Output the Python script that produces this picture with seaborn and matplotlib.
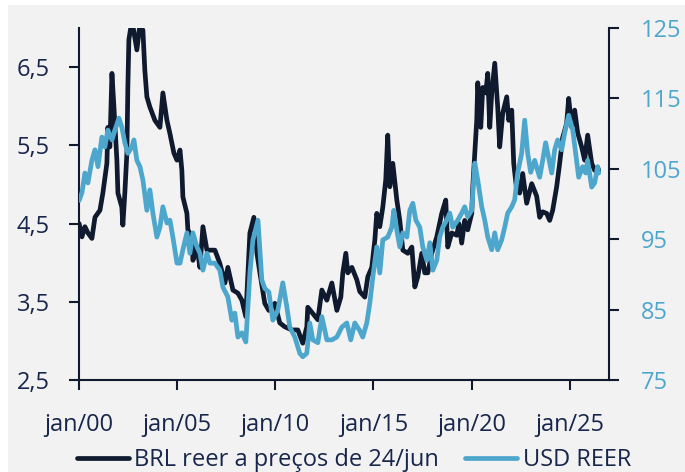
import matplotlib
matplotlib.use("Agg")
import matplotlib.pyplot as plt
from matplotlib.patches import Rectangle
import seaborn as sns
import pandas as pd

# ---------------- data ----------------
brl_dates = [
    "2000-01-03", "2000-02-25", "2000-04-20", "2000-06-15", "2000-08-28", "2000-10-24",
    "2001-01-25", "2001-03-20", "2001-06-03", "2001-06-21", "2001-07-28", "2001-09-05", "2001-10-12", "2001-12-06", "2001-12-25",
    "2002-03-08", "2002-03-27", "2002-05-03", "2002-06-10", "2002-06-28", "2002-07-17", "2002-09-12", "2002-12-13",
    "2003-02-08", "2003-04-04", "2003-05-10", "2003-06-17", "2003-08-12", "2003-11-13",
    "2004-02-15", "2004-04-10", "2004-06-24", "2004-08-19", "2004-11-01", "2004-12-28",
    "2005-02-22", "2005-03-29", "2005-04-17", "2005-07-01", "2005-07-19", "2005-10-02", "2005-10-21",
    "2006-01-04", "2006-02-28", "2006-04-25", "2006-07-08", "2006-09-02", "2006-12-04",
    "2007-03-06", "2007-06-08", "2007-08-02", "2007-11-04",
    "2008-02-05", "2008-04-19", "2008-07-01", "2008-09-15", "2008-11-28",
    "2009-01-24", "2009-03-20", "2009-06-19", "2009-09-02", "2009-12-23",
    "2010-03-25", "2010-06-27", "2010-11-04",
    "2011-02-24", "2011-05-27", "2011-08-10", "2011-08-28", "2011-11-30",
    "2012-03-02", "2012-05-16", "2012-08-17", "2012-11-18",
    "2013-02-19", "2013-05-04", "2013-06-10", "2013-08-05", "2013-09-11", "2013-11-25",
    "2014-02-26", "2014-04-22", "2014-07-24", "2014-09-18", "2014-12-01",
    "2015-01-27", "2015-03-04", "2015-04-29", "2015-06-24", "2015-08-18", "2015-09-24", "2015-11-01", "2015-12-27",
    "2016-03-11", "2016-05-05", "2016-07-01", "2016-10-02", "2016-12-15",
    "2017-02-09", "2017-04-05", "2017-06-18", "2017-08-13", "2017-10-08", "2017-12-21",
    "2018-03-24", "2018-06-25", "2018-09-07", "2018-10-15", "2018-12-28",
    "2019-03-31", "2019-05-10", "2019-07-01", "2019-08-26", "2019-10-21",
    "2020-01-04", "2020-01-23", "2020-03-01", "2020-04-06", "2020-04-25", "2020-06-20", "2020-07-27", "2020-09-21", "2020-10-28", "2020-12-04",
    "2021-01-10", "2021-03-07", "2021-05-01", "2021-06-07", "2021-08-02", "2021-10-16", "2021-11-22",
    "2022-01-17", "2022-02-23", "2022-04-19", "2022-06-14", "2022-08-09", "2022-10-22",
    "2023-01-24", "2023-04-26", "2023-06-21", "2023-08-16", "2023-10-29", "2023-12-24",
    "2024-02-18", "2024-05-02", "2024-06-27", "2024-08-22", "2024-11-04", "2024-12-12",
    "2025-02-06", "2025-04-02", "2025-05-28", "2025-08-10", "2025-10-05", "2025-11-30",
    "2026-02-13", "2026-04-09", "2026-06-03", "2026-06-24",
]
brl_values = [
    4.50, 4.33, 4.46, 4.38, 4.31, 4.58,
    4.67, 4.89, 5.27, 5.73, 5.48, 6.42, 5.99, 5.31, 4.89,
    4.71, 4.48, 4.89, 5.40, 6.24, 6.85, 7.10, 6.72,
    7.05, 6.97, 6.46, 6.12, 5.99, 5.82,
    5.73, 6.17, 5.82, 5.65, 5.40, 5.31,
    5.44, 5.18, 4.84, 4.63, 4.42, 4.33, 4.03,
    4.20, 3.94, 4.46, 4.16, 4.16, 4.16,
    3.99, 3.74, 3.94, 3.65,
    3.61, 3.52, 3.31, 4.38, 4.58,
    4.12, 3.87, 3.48, 3.39, 3.48,
    3.23, 3.18, 3.14,
    3.14, 2.97, 3.18, 3.43, 3.35,
    3.27, 3.65, 3.52, 3.74,
    3.39, 3.56, 3.87, 4.12, 3.87, 3.94,
    3.78, 3.63, 3.56, 3.82, 3.94,
    4.29, 4.63, 4.46, 4.71, 5.06, 5.63, 4.97, 5.27,
    4.80, 4.54, 4.16, 4.12, 4.20,
    3.69, 3.82, 4.12, 3.87, 3.87, 4.12,
    4.33, 4.63, 4.80, 4.20, 4.38,
    4.35, 4.50, 4.25, 4.54, 4.42,
    4.63, 4.97, 5.40, 5.82, 6.30, 5.73, 6.24, 6.17, 6.42, 5.73,
    6.17, 6.55, 5.99, 5.48, 5.91, 6.12, 5.82,
    5.95, 5.27, 4.93, 4.89, 5.14, 4.76,
    5.01, 4.85, 4.58, 4.65, 4.63, 4.54,
    4.67, 4.97, 5.27, 5.60, 5.78, 6.10,
    5.73, 5.95, 5.66, 5.48, 5.31, 5.63,
    5.27, 5.18, 5.22, 5.18,
]

usd_dates = [
    "2000-01-03", "2000-02-25", "2000-04-20", "2000-06-15", "2000-08-28", "2000-10-24", "2000-12-19",
    "2001-03-02", "2001-04-27", "2001-06-21", "2001-09-05", "2001-10-31",
    "2002-01-13", "2002-03-08", "2002-05-03", "2002-06-28", "2002-09-12", "2002-10-19", "2002-12-13",
    "2003-02-08", "2003-04-04", "2003-06-17", "2003-08-12", "2003-10-07", "2003-12-20",
    "2004-02-15", "2004-04-10", "2004-06-24", "2004-08-19", "2004-10-13", "2004-12-28",
    "2005-02-22", "2005-04-17", "2005-07-01", "2005-08-26", "2005-10-21",
    "2006-01-04", "2006-02-28", "2006-04-25", "2006-07-08", "2006-09-02", "2006-12-04",
    "2007-03-06", "2007-05-01", "2007-08-02", "2007-10-15", "2007-12-10",
    "2008-02-05", "2008-04-19", "2008-07-01", "2008-09-15", "2008-11-10",
    "2009-02-12", "2009-04-25", "2009-06-19", "2009-09-02", "2009-11-16",
    "2010-02-17", "2010-05-20", "2010-08-03", "2010-09-28", "2010-12-30",
    "2011-04-01", "2011-05-27", "2011-08-10", "2011-10-04", "2011-11-30",
    "2012-03-02", "2012-05-16", "2012-08-17", "2012-11-18",
    "2013-02-19", "2013-05-22", "2013-08-23", "2013-11-05",
    "2014-01-19", "2014-04-22", "2014-06-16", "2014-08-30", "2014-10-25", "2014-12-20",
    "2015-03-04", "2015-04-29", "2015-06-24", "2015-09-24", "2015-12-08",
    "2016-01-15", "2016-03-11", "2016-05-05", "2016-07-01", "2016-09-13", "2016-11-08",
    "2017-01-03", "2017-02-28", "2017-05-12", "2017-07-07", "2017-09-20", "2017-11-15",
    "2018-01-10", "2018-03-24", "2018-05-18", "2018-07-13", "2018-09-25", "2018-11-21",
    "2019-01-16", "2019-04-19", "2019-07-01", "2019-08-26", "2019-10-21",
    "2020-01-04", "2020-03-01", "2020-04-25", "2020-07-08", "2020-09-02", "2020-10-28",
    "2021-01-10", "2021-03-07", "2021-05-01", "2021-07-14", "2021-09-08", "2021-11-03",
    "2022-01-17", "2022-03-13", "2022-05-07", "2022-07-21", "2022-09-15", "2022-11-10",
    "2023-01-05", "2023-03-20", "2023-06-21", "2023-08-16", "2023-10-10", "2023-12-24",
    "2024-01-31", "2024-03-26", "2024-05-21", "2024-08-03", "2024-09-28", "2024-12-12",
    "2025-02-25", "2025-04-21", "2025-06-16", "2025-08-29", "2025-10-24", "2025-11-30",
    "2026-02-13", "2026-04-09", "2026-06-03", "2026-06-24",
]
usd_values = [
    100.5, 101.6, 104.4, 103.0, 106.2, 107.7, 105.3,
    109.5, 108.1, 110.5, 109.1, 110.5,
    112.2, 110.9, 108.7, 107.2, 108.1, 109.1, 106.2,
    105.3, 103.4, 99.1, 102.0, 98.7, 95.3,
    96.7, 99.6, 97.3, 97.7, 95.3, 91.6,
    91.6, 93.5, 95.9, 93.0, 95.9,
    93.9, 93.0, 90.6, 93.0, 91.6, 91.6,
    90.6, 88.2, 86.8, 83.5, 84.5,
    81.1, 81.7, 80.4, 90.2, 94.9,
    97.7, 89.2, 88.0, 87.5, 83.5,
    84.9, 88.8, 85.4, 82.5, 81.1,
    78.8, 78.3, 78.8, 83.1, 80.7,
    80.3, 84.0, 80.7, 80.7,
    81.1, 82.5, 83.1, 80.7,
    83.1, 82.0, 81.1, 83.1, 85.9, 89.6,
    93.9, 90.2, 94.9, 95.3, 96.7,
    99.1, 96.3, 93.9, 95.9, 95.3, 99.1,
    100.1, 97.7, 96.7, 93.9, 92.0, 94.5,
    90.6, 92.0, 95.3, 96.7, 97.7, 98.7,
    96.7, 97.7, 98.7, 99.6, 98.2,
    99.1, 105.8, 103.4, 99.6, 97.7, 95.3,
    93.5, 95.9, 93.5, 94.9, 96.7, 98.7,
    99.6, 100.6, 104.4, 107.2, 111.9, 107.2,
    104.5, 106.2, 103.8, 106.2, 108.7, 105.8,
    104.4, 107.7, 109.1, 107.7, 110.1, 112.6,
    110.5, 107.2, 103.8, 105.3, 104.4, 106.2,
    102.4, 103.0, 105.3, 104.4,
]

series_labels = ["BRL reer a preços de 24/jun", "USD REER"]
left_ticks = [2.5, 3.5, 4.5, 5.5, 6.5]
right_ticks = [75, 85, 95, 105, 115, 125]
x_tick_years = [2000, 2005, 2010, 2015, 2020, 2025]

# ---------------- style ----------------
NAVY = "#0f1a2e"
BLUE = "#4da6cc"
TEXT = "#17264a"
BG = "#f2f2f2"
plt.rcParams["font.family"] = ["Open Sans", "DejaVu Sans"]
FS = 17

W, H = 685, 472
fig = plt.figure(figsize=(W / 100, H / 100), dpi=100, facecolor="white")
fig.patches.append(Rectangle((8 / W, 0), 1, (H - 5) / H, transform=fig.transFigure,
                             facecolor=BG, edgecolor="none", zorder=-10))

ax = fig.add_axes([79 / W, (H - 380) / H, 530 / W, 352 / H])
ax.set_facecolor("none")
ax2 = ax.twinx()

brl_df = pd.DataFrame({"date": pd.to_datetime(brl_dates), "v": brl_values})
usd_df = pd.DataFrame({"date": pd.to_datetime(usd_dates), "v": usd_values})

sns.lineplot(data=brl_df, x="date", y="v", ax=ax, color=NAVY, linewidth=3.4,
             legend=False, solid_joinstyle="round", solid_capstyle="round")
sns.lineplot(data=usd_df, x="date", y="v", ax=ax2, color=BLUE, linewidth=3.4,
             legend=False, solid_joinstyle="round", solid_capstyle="round")

ax.set_xlim(pd.Timestamp("2000-01-01"), pd.Timestamp("2027-01-01"))
ax.set_ylim(2.5, 7.0)
ax2.set_ylim(75, 125)

ax.set_yticks(left_ticks)
ax.set_yticklabels([f"{v:.1f}".replace(".", ",") for v in left_ticks])
ax2.set_yticks(right_ticks)
ax2.set_yticklabels([str(v) for v in right_ticks])
xt = [pd.Timestamp(f"{y}-01-01") for y in x_tick_years]
ax.set_xticks(xt)
ax.set_xticklabels([f"jan/{y % 100:02d}" for y in x_tick_years])

for a in (ax, ax2):
    a.set_xlabel("")
    a.set_ylabel("")
    for s in a.spines.values():
        s.set_color(NAVY)
        s.set_linewidth(1.5)
ax.spines["top"].set_visible(False)
ax.spines["right"].set_visible(False)
ax2.spines["top"].set_visible(False)
ax2.spines["left"].set_visible(False)
ax2.spines["bottom"].set_visible(False)

ax.tick_params(axis="y", direction="out", length=7, width=1.5, color=NAVY,
               labelsize=FS, labelcolor=TEXT, pad=14)
ax.tick_params(axis="x", direction="out", length=7, width=1.5, color=NAVY,
               labelsize=FS, labelcolor=TEXT, pad=17)
ax2.tick_params(axis="y", direction="out", length=7, width=1.5, color=NAVY,
                labelsize=FS, labelcolor=BLUE, pad=16)

handles = [ax.get_lines()[0], ax2.get_lines()[0]]
fig.legend(handles, series_labels, loc="center", bbox_to_anchor=(354 / W, 12 / H),
           ncol=2, frameon=False, fontsize=FS, labelcolor=TEXT,
           handlelength=2.2, handletextpad=0.25, columnspacing=1.1,
           borderaxespad=0, borderpad=0)

fig.savefig("out.png", dpi=100, facecolor=fig.get_facecolor())
